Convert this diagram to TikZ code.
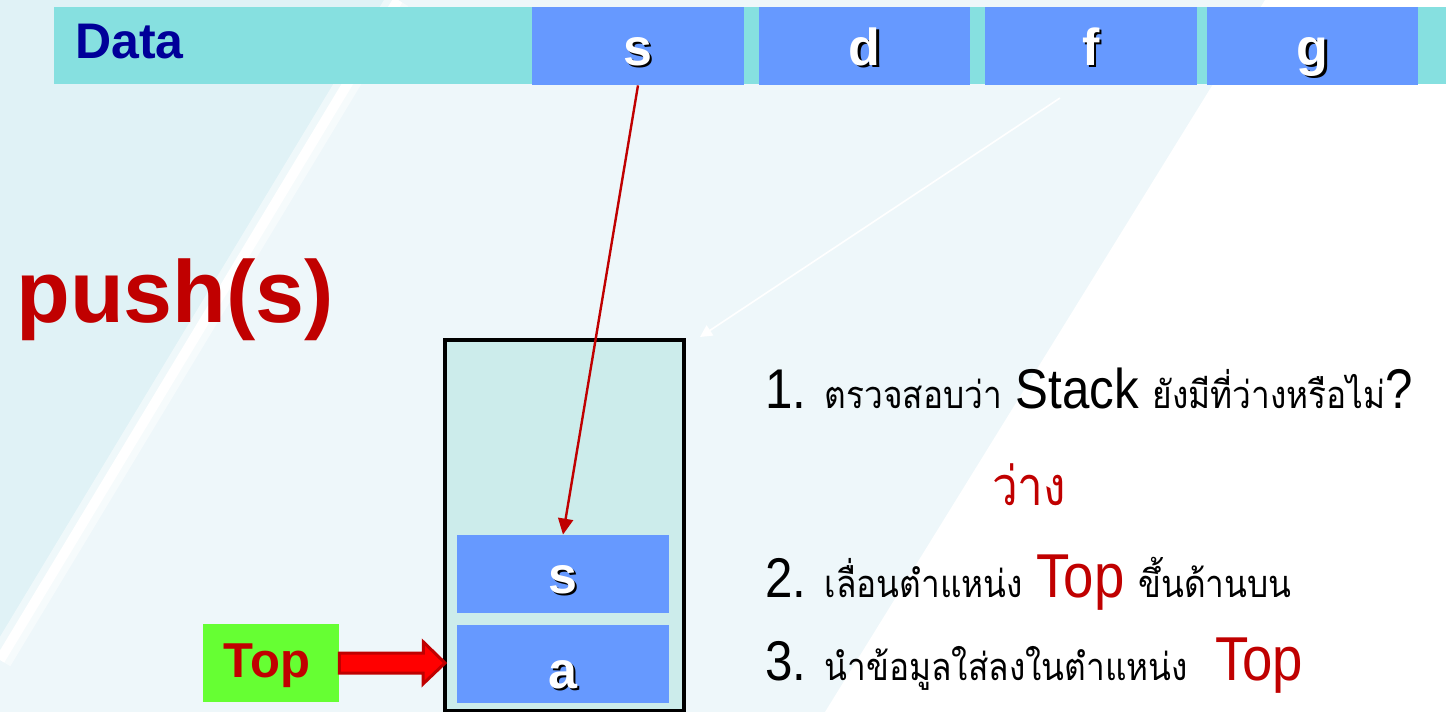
\documentclass[tikz,border=0pt]{standalone}
\usepackage{fontspec}
\setmainfont{Liberation Sans}
\newfontfamily\thai[Script=Thai]{Loma}
\usetikzlibrary{arrows.meta,calc}
\definecolor{barc}{HTML}{86E0E0}
\definecolor{cellc}{HTML}{6699FF}
\definecolor{dblue}{HTML}{000099}
\definecolor{dred}{HTML}{C00000}
\definecolor{stackc}{HTML}{CCECEB}
\definecolor{greenc}{HTML}{66FF33}
\definecolor{bgA}{HTML}{E0F2F6}
\definecolor{bgB}{HTML}{EEF7FA}
\newcommand{\shd}[1]{\leavevmode\rlap{\kern1.2pt\raisebox{-1.2pt}{\textcolor{black}{#1}}}\textcolor{white}{#1}}
\tikzset{
  cellbox/.style={fill=cellc, inner sep=0pt, minimum width=106pt, minimum height=39pt},
  cellletter/.style={anchor=base, font=\bfseries\fontsize{26}{26}\selectfont, inner sep=0pt},
  stackcell/.style={fill=cellc, inner sep=0pt, minimum width=106pt, minimum height=39pt},
  thaiL/.style={anchor=base west, inner sep=0pt, font=\fontsize{28}{28}\selectfont},
}
\newcommand{\thx}[1]{{\thai\fontsize{19}{19}\selectfont #1}}
\newcommand{\narrow}[1]{\scalebox{0.88}[1]{#1}}
\begin{document}
\begin{tikzpicture}[x=0.5pt,y=-0.5pt]
\useasboundingbox (0,0) rectangle (1446,712);
% background
\fill[bgB] (0,0) rectangle (1446,712);
\fill[bgA] (0,0) -- (395,0) -- (0,655) -- cycle;
\fill[white] (1265,0) -- (1446,0) -- (1446,712) -- (825,712) -- cycle;
\draw[white, opacity=0.5, line width=12pt] (398,0) -- (0,660);
\draw[white, line width=5pt] (398,0) -- (0,660);
% data bar
\node[fill=barc, inner sep=0pt, minimum width=696pt, minimum height=38.5pt] (bar) at (750,45.5) {};
\node[anchor=base west, inner sep=0pt, text=dblue, font=\bfseries\fontsize{25}{25}\selectfont] (data) at (75,58) {Data};
\node[cellbox] (cs) at (638,46) {};
\node[cellbox, minimum width=105.5pt] (cd) at (864.5,46) {};
\node[cellbox] (cf) at (1091,46) {};
\node[cellbox, minimum width=105.5pt] (cg) at (1312.5,46) {};
\node[cellletter] (ls) at (638,65) {\shd{s}};
\node[cellletter] (ld) at (864.5,65) {\shd{d}};
\node[cellletter] (lf) at (1091,65) {\shd{f}};
\node[cellletter] (lg) at (1312.5,65) {\shd{g}};
% push(s)
\node[anchor=base west, inner sep=0pt, text=dred, font=\bfseries\fontsize{44}{44}\selectfont] (push) at (16,322) {push(s)};
% stack
\draw[line width=2pt, fill=stackc] (444.5,340) rectangle (684,711);
\node[inner sep=0pt, minimum width=121pt, minimum height=186pt] (stack) at (564,525) {};
\node[stackcell] (ss) at (563,574) {};
\node[stackcell] (sa) at (563,664) {};
\node[cellletter] at (563,593) {\shd{s}};
\node[cellletter] at (563,688) {\shd{a}};
% Top box
\node[fill=greenc, inner sep=0pt, minimum width=68pt, minimum height=39pt] (top) at (271,663) {};
\node[anchor=base, inner sep=0pt, text=dred, font=\bfseries\fontsize{24.5}{24.5}\selectfont] at (267,677) {Top};
% block arrow
\fill[red, draw=dred, line width=1.5pt, line join=miter]
  ($(top.east)+(0,-10)$) -- ++(84,0) -- ++(0,-11) -- (445,663) -- ++(-22,21) -- ++(0,-11) -- ($(top.east)+(0,10)$) -- cycle;
% red connector
\draw[dred, line width=1.2pt, -{Triangle[length=8pt,width=7.5pt]}] (cs.south) -- (ss.north);
% white faint arrow
\coordinate (w1) at (1060,98);
\coordinate (w2) at (700,337);
\draw[white, line width=0.8pt, -{Triangle[length=6pt,width=6pt]}] (w1) -- (w2);
% steps
\node[thaiL] (l1) at (765,408) {\narrow{1. \thx{ตรวจสอบว่า} Stack \thx{ยังมีที่ว่างหรือไม่}?}};
\node[anchor=base, inner sep=0pt, text=dred] (free) at (1029,505) {\scalebox{0.85}[1]{\thai\fontsize{27}{27}\selectfont ว่าง}};
\node[thaiL] (l2) at (765,597) {\narrow{2. \thx{เลื่อนตำแหน่ง} \textcolor{dred}{\fontsize{31}{31}\selectfont Top} \thx{ขึ้นด้านบน}}};
\node[thaiL] (l3) at (765,680) {\narrow{3. \thx{นำข้อมูลใส่ลงในตำแหน่ง} \ \textcolor{dred}{\fontsize{31}{31}\selectfont Top}}};
\end{tikzpicture}
\end{document}
